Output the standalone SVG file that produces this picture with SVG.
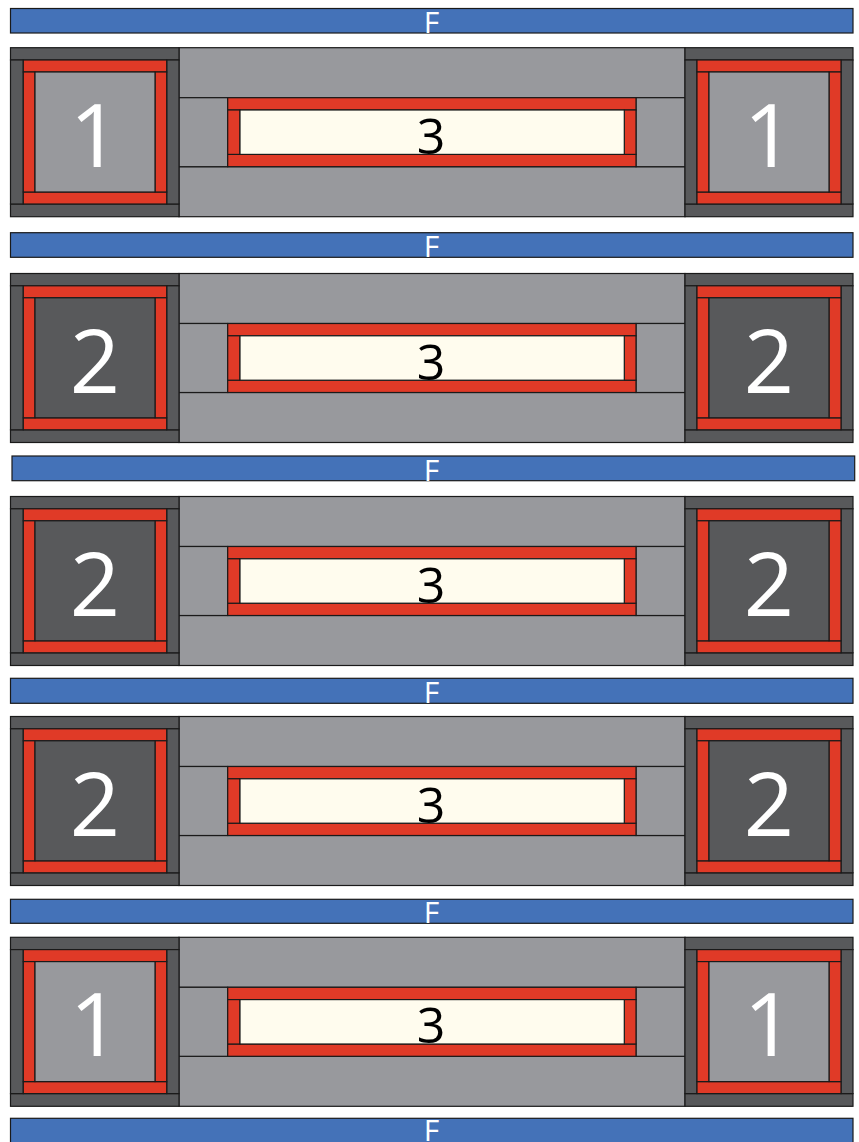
<svg xmlns="http://www.w3.org/2000/svg" width="859" height="1142" viewBox="0 0 859 1142">
<style>
.bar{fill:#4472B8;stroke:#1a1a1a;stroke-width:1.2}
.dk{fill:#58595B;stroke:#1a1a1a;stroke-width:1.2}
.lg{fill:#98999D;stroke:#1a1a1a;stroke-width:1.2}
.rd{fill:#E03A27;stroke:#1a1a1a;stroke-width:1.2}
.cr{fill:#FFFCEE;stroke:#1a1a1a;stroke-width:1.2}
.f{font-family:"Open Sans","Noto Sans",sans-serif;fill:#fff;font-size:30px;text-anchor:middle}
.num{font-family:"Open Sans","Noto Sans",sans-serif;fill:#fff;font-size:88px;text-anchor:middle}
.three{font-family:"Open Sans","Noto Sans",sans-serif;fill:#000;font-size:50px;text-anchor:middle}
</style>
<defs>
<g id="frameL">
<rect class="dk" x="10.5" y="0" width="168.5" height="12.3"/>
<rect class="dk" x="10.5" y="156.3" width="168.5" height="12.7"/>
<rect class="dk" x="10.5" y="12.3" width="12.8" height="144"/>
<rect class="dk" x="166.7" y="12.3" width="12.3" height="144"/>
<rect class="rd" x="23.3" y="12.3" width="143.4" height="12"/>
<rect class="rd" x="23.3" y="144.3" width="143.4" height="12"/>
<rect class="rd" x="23.3" y="24.3" width="11.7" height="120"/>
<rect class="rd" x="155" y="24.3" width="11.7" height="120"/>
</g>
<g id="frameR">
<rect class="dk" x="685" y="0" width="168" height="12.3"/>
<rect class="dk" x="685" y="156.3" width="168" height="12.7"/>
<rect class="dk" x="685" y="12.3" width="12" height="144"/>
<rect class="dk" x="841" y="12.3" width="12" height="144"/>
<rect class="rd" x="697" y="12.3" width="144" height="12"/>
<rect class="rd" x="697" y="144.3" width="144" height="12"/>
<rect class="rd" x="697" y="24.3" width="12" height="120"/>
<rect class="rd" x="829" y="24.3" width="12" height="120"/>
</g>
<g id="mid">
<rect class="lg" x="179" y="0" width="506" height="50"/>
<rect class="lg" x="179" y="119" width="506" height="50"/>
<rect class="lg" x="179" y="50" width="48.7" height="69"/>
<rect class="lg" x="636" y="50" width="49" height="69"/>
<rect class="rd" x="227.7" y="50" width="408.3" height="12.3"/>
<rect class="rd" x="227.7" y="106.7" width="408.3" height="12.3"/>
<rect class="rd" x="227.7" y="62.3" width="12.3" height="44.4"/>
<rect class="rd" x="624.3" y="62.3" width="11.7" height="44.4"/>
<rect class="cr" x="240" y="62.3" width="384.3" height="44.4"/>
<text class="three" x="431" y="106">3</text>
</g>
</defs>
<g id="bar1"><rect class="bar" x="10.5" y="8.5" width="842.5" height="24.5"/><text class="f" x="431.5" y="33">F</text></g>
<g id="bar2"><rect class="bar" x="10.5" y="232.7" width="842.5" height="24.6"/><text class="f" x="431.5" y="257.3">F</text></g>
<g id="bar3"><rect class="bar" x="12" y="456" width="842.7" height="24.7"/><text class="f" x="431.5" y="480.7">F</text></g>
<g id="bar4"><rect class="bar" x="10.5" y="678.3" width="842.5" height="25"/><text class="f" x="431.5" y="703.3">F</text></g>
<g id="bar5"><rect class="bar" x="10.5" y="899.3" width="842.5" height="24"/><text class="f" x="431.5" y="923.3">F</text></g>
<g id="bar6"><rect class="bar" x="10.5" y="1118.3" width="842.5" height="26"/><text class="f" x="431.5" y="1141">F</text></g>

<g id="section1" transform="translate(0,47.7)">
<use href="#mid"/>
<g id="s1-left"><use href="#frameL"/><rect class="lg" x="35" y="24.3" width="120" height="120"/><text class="num" x="95" y="119">1</text></g>
<g id="s1-right"><use href="#frameR"/><rect class="lg" x="709" y="24.3" width="120" height="120"/><text class="num" x="769" y="119">1</text></g>
</g>
<g id="section2" transform="translate(0,273.5)">
<use href="#mid"/>
<g id="s2-left"><use href="#frameL"/><rect class="dk" x="35" y="24.3" width="120" height="120"/><text class="num" x="95" y="119">2</text></g>
<g id="s2-right"><use href="#frameR"/><rect class="dk" x="709" y="24.3" width="120" height="120"/><text class="num" x="769" y="119">2</text></g>
</g>
<g id="section3" transform="translate(0,496.5)">
<use href="#mid"/>
<g id="s3-left"><use href="#frameL"/><rect class="dk" x="35" y="24.3" width="120" height="120"/><text class="num" x="95" y="119">2</text></g>
<g id="s3-right"><use href="#frameR"/><rect class="dk" x="709" y="24.3" width="120" height="120"/><text class="num" x="769" y="119">2</text></g>
</g>
<g id="section4" transform="translate(0,716.5)">
<use href="#mid"/>
<g id="s4-left"><use href="#frameL"/><rect class="dk" x="35" y="24.3" width="120" height="120"/><text class="num" x="95" y="119">2</text></g>
<g id="s4-right"><use href="#frameR"/><rect class="dk" x="709" y="24.3" width="120" height="120"/><text class="num" x="769" y="119">2</text></g>
</g>
<g id="section5" transform="translate(0,937.3)">
<use href="#mid"/>
<g id="s5-left"><use href="#frameL"/><rect class="lg" x="35" y="24.3" width="120" height="120"/><text class="num" x="95" y="119">1</text></g>
<g id="s5-right"><use href="#frameR"/><rect class="lg" x="709" y="24.3" width="120" height="120"/><text class="num" x="769" y="119">1</text></g>
</g>
<g id="connectors"/>
</svg>
